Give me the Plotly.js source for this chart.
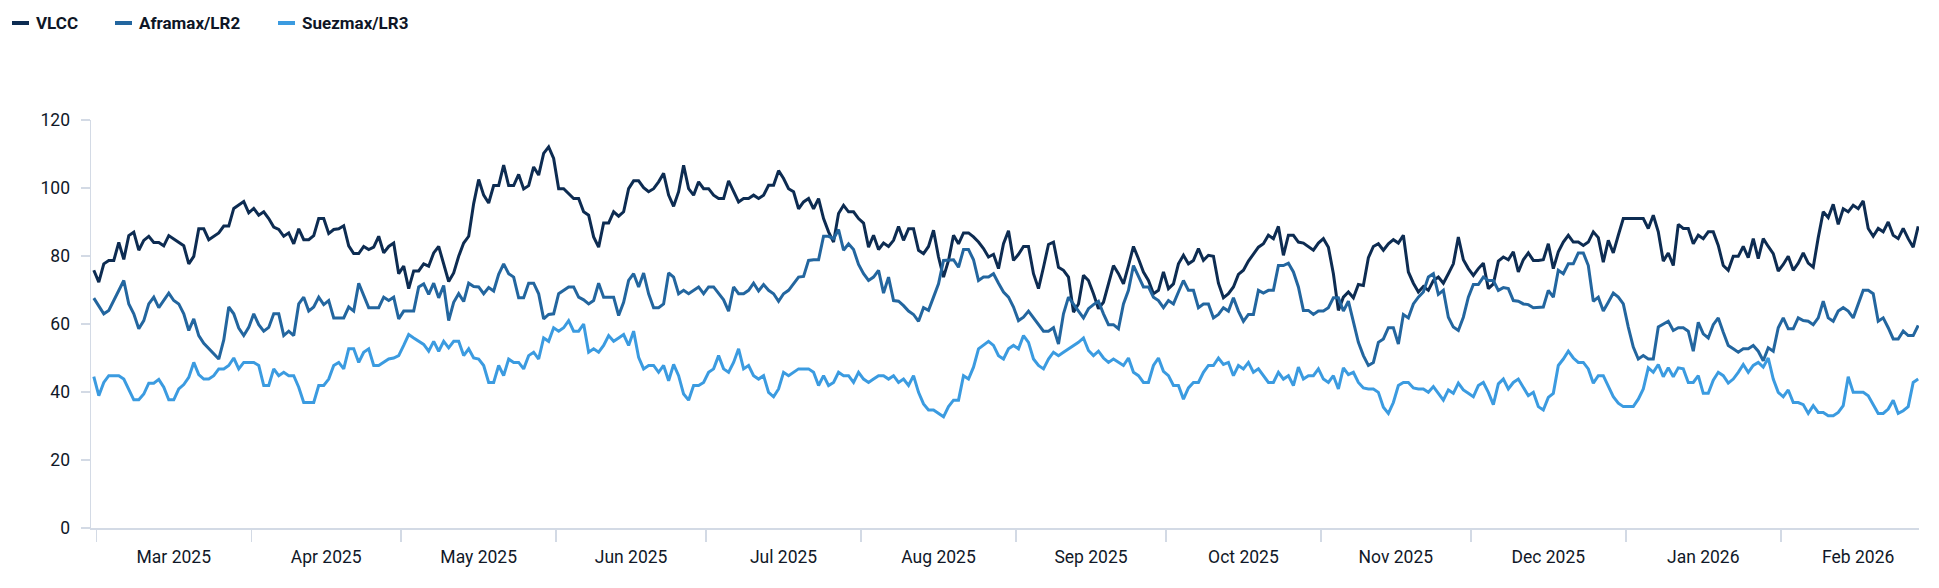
<!DOCTYPE html>
<html>
<head>
<meta charset="utf-8">
<script src="https://cdn.plot.ly/plotly-3.0.1.min.js"></script>
<style>
html,body{margin:0;padding:0;background:#ffffff;}
#chart{width:1939px;height:588px;}
</style>
</head>
<body>
<div id="chart"></div>
<script>
// ---- data (daily readings, first reading 2025-02-28) ----
const firstDay = [2025, 1, 28, 12];
const seriesNames = ['VLCC', 'Aframax/LR2', 'Suezmax/LR3'];
const seriesColors = ['#0d2c52', '#23669f', '#3b9be0'];
const yTickVals = [0, 20, 40, 60, 80, 100, 120];

const vlcc = [
75.8,72.3,77.7,78.7,78.7,84.0,79.0,86.0,87.0,81.7,
84.6,85.8,84.0,84.0,83.0,86.0,85.0,84.0,83.0,77.7,
79.9,88.0,88.0,84.8,85.8,86.8,88.8,88.8,94.0,95.0,
96.0,92.7,94.0,92.0,93.0,91.0,88.5,87.8,85.8,86.8,
83.6,88.0,84.8,84.8,86.0,91.0,91.0,86.6,87.8,88.0,
88.9,83.0,80.7,80.7,82.8,81.9,82.6,85.8,80.9,82.8,
83.8,74.8,77.0,70.4,75.6,75.6,77.7,77.0,80.9,82.8,
77.7,72.5,75.0,79.9,83.8,85.8,95.4,102.5,97.9,95.6,
100.7,100.7,106.7,100.7,100.7,104.0,99.7,100.7,106.2,103.8,
110.2,112.1,108.7,99.8,99.8,98.2,96.9,96.9,
93.0,92.0,85.6,82.6,89.7,89.7,93.0,91.7,93.0,99.8,
102.1,102.1,100.1,98.9,99.8,101.8,104.3,97.9,94.6,98.9,
106.7,99.8,97.9,101.8,99.8,99.8,97.9,96.9,96.9,102.1,
98.9,95.9,96.9,96.9,97.9,96.9,97.9,100.8,100.8,105.1,
102.8,99.8,98.9,93.9,95.9,96.9,93.9,96.9,91.0,87.1,
84.1,92.5,94.9,93.0,93.0,91.0,89.7,82.6,86.1,81.9,
83.8,82.8,84.6,88.7,84.6,88.0,88.0,81.7,80.7,82.8,
87.6,79.7,73.8,78.7,86.1,83.6,86.8,86.8,85.6,84.1,
82.2,79.7,80.5,76.3,83.6,87.4,78.7,80.5,82.8,82.8,
74.8,70.4,76.7,83.4,84.1,76.7,
75.8,73.8,63.5,65.9,74.3,72.8,
68.9,64.5,66.4,72.0,77.2,74.8,71.8,77.2,82.8,79.2,
75.3,72.8,68.9,69.9,75.3,70.4,71.8,77.7,80.2,77.7,
78.7,82.2,78.7,80.2,79.9,72.0,67.7,68.9,70.9,74.6,
75.8,78.5,80.7,82.6,83.6,86.1,85.1,88.7,80.2,86.1,
86.1,84.1,83.8,82.8,81.7,83.8,85.1,82.6,74.8,64.0,
67.9,69.4,67.7,71.6,71.3,79.5,82.8,83.6,81.7,83.6,
84.8,83.8,86.1,75.3,72.0,69.4,71.0,69.9,72.8,73.8,
72.0,74.8,77.7,85.6,78.9,76.3,74.3,76.3,77.9,70.4,
71.8,78.5,79.7,78.9,81.2,75.3,78.9,80.9,78.7,78.7,
78.9,83.6,76.3,81.2,84.1,86.1,84.1,84.1,83.1,84.1,
87.1,85.4,78.2,84.6,80.9,86.1,91.0,91.0,91.0,91.0,
91.0,88.1,92.0,87.1,78.5,80.9,77.2,89.3,88.1,88.1,
83.6,86.1,85.1,87.1,87.1,83.1,77.2,75.8,79.9,79.9,
82.8,79.5,85.1,79.2,85.1,82.8,80.7,75.6,77.5,79.9,
75.8,77.9,80.9,77.9,76.7,85.4,93.0,91.3,95.2,89.3,
93.9,93.0,94.9,93.9,96.2,88.1,85.8,88.1,87.1,90.0,
86.1,85.1,88.1,85.1,82.6,88.7
];

const aframax = [
67.6,65.4,63.0,64.0,66.9,69.9,72.8,65.9,63.0,58.6,
61.0,65.9,67.9,64.8,67.1,69.1,66.9,65.9,63.0,58.1,
61.5,56.6,54.3,52.7,51.0,49.7,55.3,65.0,63.0,58.8,
56.6,59.0,63.0,59.8,57.9,59.0,63.0,63.0,56.6,57.9,
56.6,65.9,67.9,63.8,65.0,67.9,65.7,66.9,61.8,61.8,
61.8,65.0,63.8,72.0,68.6,64.8,64.8,64.8,67.9,66.9,
67.9,61.5,63.8,63.8,63.8,70.9,71.8,68.7,72.0,67.7,
71.3,61.0,66.4,68.9,66.6,72.0,71.0,70.9,68.9,70.7,
69.7,74.6,77.7,74.8,73.8,67.7,67.7,72.0,72.0,68.9,
61.5,62.8,63.0,68.9,69.9,70.9,70.9,67.9,
67.1,65.9,66.9,72.0,67.9,67.9,67.9,62.5,66.4,72.8,
74.8,70.9,75.0,68.9,64.8,64.8,65.9,75.0,73.8,68.9,
69.9,68.9,69.9,70.9,68.9,70.9,70.9,69.1,67.1,63.8,
70.9,68.9,68.9,69.9,72.0,69.7,71.6,69.9,68.9,66.7,
68.9,69.9,71.8,73.8,74.0,78.7,78.9,78.9,85.8,85.8,
85.1,87.8,81.7,83.6,81.9,77.5,74.8,72.8,73.8,75.8,
69.1,73.8,66.9,66.7,65.4,63.8,62.8,60.8,64.8,64.0,
67.9,71.8,78.7,78.9,78.9,76.7,81.9,81.9,78.9,72.8,
73.8,73.8,74.8,72.0,69.4,67.9,65.0,61.0,62.0,63.8,
61.8,59.8,57.9,57.9,58.9,54.1,
63.0,67.9,65.7,63.8,61.8,64.5,
65.7,66.7,63.0,59.8,59.8,58.6,65.9,69.9,77.2,73.8,
70.9,70.9,67.9,66.9,64.8,66.9,65.9,69.4,72.8,69.9,
69.9,64.8,65.9,65.9,61.8,62.8,64.8,63.8,67.7,63.8,
60.8,62.8,62.8,69.9,69.1,69.9,69.9,77.2,77.2,77.9,
75.3,70.9,64.0,64.0,62.8,63.8,63.8,64.8,67.7,67.7,
63.8,66.7,60.5,54.6,50.7,47.8,48.7,54.6,55.6,58.9,
58.9,54.1,62.8,61.8,65.9,67.9,69.4,73.8,74.8,68.7,
69.9,62.0,59.1,58.1,62.0,67.9,71.6,71.6,73.8,72.8,
72.8,69.9,70.7,70.4,66.9,66.7,65.9,65.7,64.8,64.8,
65.0,69.9,67.9,75.8,74.8,77.7,77.7,80.9,80.9,77.2,
66.7,67.9,63.8,66.4,69.1,67.9,65.9,59.1,53.2,49.7,
50.7,49.7,49.7,59.1,60.0,60.8,58.1,58.9,58.9,57.9,
52.0,60.5,57.1,55.9,59.8,61.8,57.6,53.7,52.7,51.7,
52.7,52.7,53.7,52.0,49.2,53.0,52.0,58.9,61.8,58.6,
58.6,61.8,61.0,60.8,59.8,61.8,66.7,61.8,60.8,63.8,
64.8,63.8,61.8,65.7,69.9,69.9,68.9,60.8,61.8,58.9,
55.6,55.6,57.9,56.6,56.6,59.6
];

const suezmax = [
44.5,38.9,42.8,44.8,44.8,44.8,43.8,40.9,37.7,37.7,
39.4,42.6,42.6,43.7,41.4,37.7,37.7,40.9,42.2,44.3,
48.7,45.1,43.8,43.8,44.8,46.8,46.8,47.8,50.0,46.8,
48.7,48.7,48.7,47.8,41.9,41.9,46.8,44.8,45.8,44.8,
44.8,41.4,36.9,36.9,36.9,41.9,41.9,43.8,47.8,48.7,
46.8,52.7,52.7,48.7,51.7,52.7,47.8,47.8,48.7,49.7,
50.0,50.7,53.7,56.9,55.9,54.9,54.0,52.0,54.9,52.0,
54.9,53.0,54.9,54.9,50.7,52.7,50.0,49.7,47.8,42.8,
42.8,47.8,44.8,49.7,48.7,48.7,46.8,50.7,51.7,49.7,
55.9,54.9,58.9,57.9,58.9,61.0,57.9,57.9,
60.0,51.7,52.7,51.7,53.7,56.6,54.9,55.9,56.9,53.7,
57.9,50.2,46.8,47.8,47.8,45.8,47.8,43.3,48.1,44.8,
39.4,37.6,41.9,41.9,42.8,45.8,46.8,50.7,46.8,45.8,
48.7,52.7,46.8,47.8,44.8,43.8,44.8,39.9,38.6,40.9,
45.8,44.8,45.8,46.8,46.8,46.8,45.8,41.9,44.8,41.9,
42.8,45.8,44.8,44.8,42.8,45.8,43.8,42.8,43.8,44.8,
44.8,43.8,44.8,42.8,43.8,41.9,44.8,39.9,36.5,34.7,
34.7,33.7,32.7,35.7,37.6,37.6,44.8,43.8,47.3,52.7,
53.7,54.9,53.7,50.7,49.7,52.7,53.7,52.7,56.6,54.6,
49.7,47.8,46.8,49.7,51.7,50.7,
51.7,52.7,53.7,54.6,55.9,52.2,
50.7,52.0,50.0,48.7,49.7,48.7,47.8,50.0,45.8,44.8,
42.8,42.8,47.8,50.0,46.1,44.8,41.9,41.9,37.9,41.2,
42.8,42.8,45.8,47.8,47.8,50.0,48.1,48.7,44.8,47.8,
46.8,48.7,45.8,46.8,44.8,42.8,42.8,45.8,43.8,44.8,
41.9,47.3,43.8,44.8,44.8,46.8,43.8,42.8,44.8,40.9,
47.1,45.1,45.8,42.8,41.2,40.9,40.9,39.9,35.5,33.7,
36.9,41.9,42.8,42.8,41.2,40.9,40.9,39.9,41.6,39.6,
37.6,40.6,39.6,42.6,40.6,39.6,38.6,41.9,42.8,39.9,
36.3,42.4,43.8,40.9,42.8,43.8,41.2,38.9,39.9,35.7,
34.7,38.4,39.6,47.8,49.7,52.0,50.0,48.7,48.7,46.8,
42.6,44.8,44.8,41.9,38.6,36.7,35.7,35.7,35.7,37.9,
40.9,47.1,45.8,48.1,44.5,47.1,44.5,47.1,46.8,42.8,
42.8,44.8,39.6,39.6,43.5,45.8,44.8,42.6,43.8,45.8,
48.1,45.8,47.8,48.7,47.3,50.0,43.8,39.9,38.6,40.6,
36.9,36.9,36.3,33.7,36.0,34.0,34.0,33.0,33.0,34.0,
36.0,44.5,39.9,39.9,39.9,38.9,36.3,33.7,33.7,35.0,
37.6,33.7,34.5,35.7,42.8,43.8
];

// ---- build dates (one per reading) ----
function buildDates(n) {
  const t0 = Date.UTC(firstDay[0], firstDay[1], firstDay[2], firstDay[3]);
  const out = [];
  for (let i = 0; i < n; i++) {
    const d = new Date(t0 + i * 86400000);
    out.push(d.toISOString().slice(0, 19).replace('T', ' '));
  }
  return out;
}

const allSeries = [vlcc, aframax, suezmax];
const traces = allSeries.map((vals, i) => ({
  type: 'scatter',
  mode: 'lines',
  name: seriesNames[i],
  x: buildDates(vals.length),
  y: vals,
  line: {color: seriesColors[i], width: 3, shape: 'linear'},
  hoverinfo: 'x+y+name',
  showlegend: false
}));

// ---- geometry ----
const W = 1939, H = 588;
const M = {l: 91, r: 20, t: 120, b: 60};
const PW = W - M.l - M.r, PH = H - M.t - M.b;
const px2x = p => (p - M.l) / PW;
const py2y = p => (H - M.b - p) / PH;

const axisColor = '#d3dae5';
const textColor = '#101828';
const tickFont = {family: 'Roboto, "Open Sans", sans-serif', size: 17.5, color: textColor};

// custom legend (short swatches as in the reference)
const legendLeft = [12, 115, 278];
const legendY = 23;
const shapes = [];
const annotations = [];
seriesNames.forEach((nm, i) => {
  shapes.push({
    type: 'line', xref: 'paper', yref: 'paper',
    x0: px2x(legendLeft[i]), x1: px2x(legendLeft[i] + 17),
    y0: py2y(legendY), y1: py2y(legendY),
    line: {color: seriesColors[i], width: 4}
  });
  annotations.push({
    xref: 'paper', yref: 'paper',
    x: px2x(legendLeft[i] + 22), y: py2y(legendY),
    xanchor: 'left', yanchor: 'middle',
    text: '<b>' + nm + '</b>', showarrow: false,
    font: {family: 'Roboto, "Open Sans", sans-serif', size: 17, color: '#0e1626'}
  });
});

const layout = {
  width: W, height: H,
  margin: M,
  paper_bgcolor: '#ffffff',
  plot_bgcolor: '#ffffff',
  showlegend: false,
  xaxis: {
    type: 'date',
    range: ['2025-02-27 22:34', '2026-02-28 15:50'],
    tick0: '2025-03-01', dtick: 'M1',
    tickformat: '%b %Y',
    ticklabelmode: 'period',
    showgrid: false, zeroline: false,
    showline: true, linecolor: axisColor, linewidth: 1.5,
    ticks: 'outside', ticklen: 12, tickwidth: 1.5, tickcolor: axisColor,
    tickfont: tickFont,
    fixedrange: true
  },
  yaxis: {
    range: [0, 120],
    tickvals: yTickVals,
    showgrid: false, zeroline: false,
    showline: true, linecolor: axisColor, linewidth: 1.5,
    ticks: 'outside', ticklen: 9, tickwidth: 1.5, tickcolor: axisColor,
    tickfont: tickFont,
    ticklabelstandoff: 7,
    fixedrange: true
  },
  shapes: shapes,
  annotations: annotations
};

Plotly.newPlot('chart', traces, layout, {displayModeBar: false, staticPlot: true});
</script>
</body>
</html>
